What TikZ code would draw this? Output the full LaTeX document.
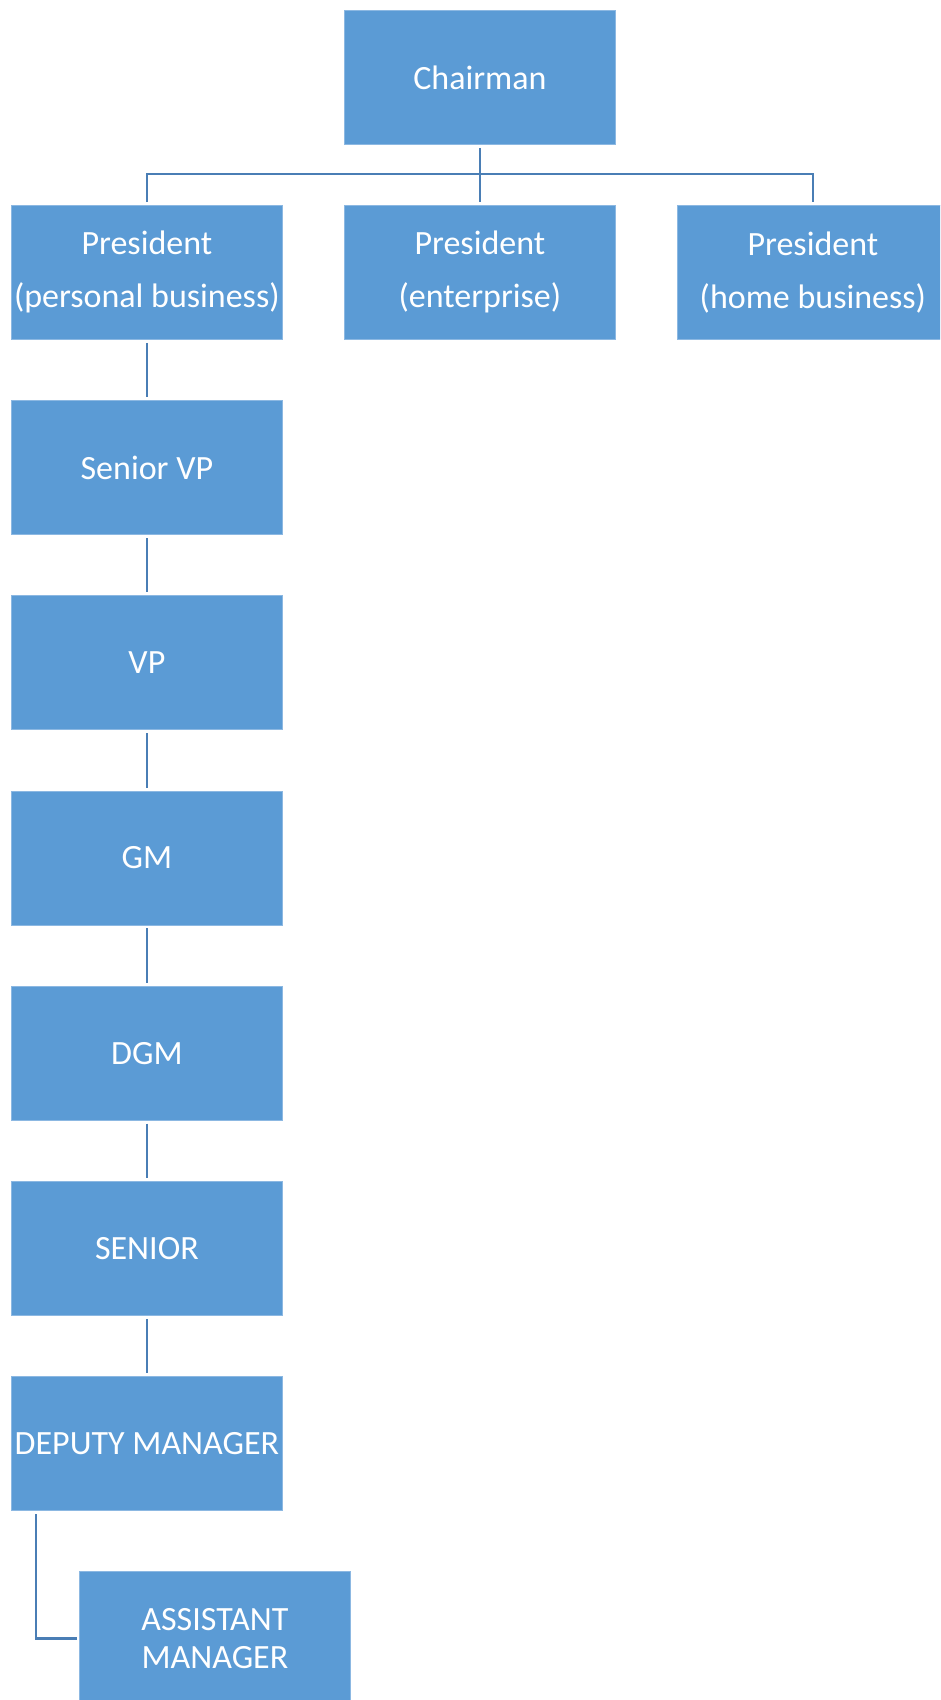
\documentclass[tikz,border=0pt]{standalone}
\usepackage{fontspec}
\setmainfont{Carlito}
\definecolor{boxblue}{HTML}{5B9BD5}
\definecolor{boxedge}{HTML}{8CB8E2}
\definecolor{linkblue}{HTML}{4A7EB5}
\begin{document}
\begin{tikzpicture}[x=1pt,y=-1pt,
  orgbox/.style={fill=boxblue,draw=boxedge,line width=0.8pt,anchor=north west,
    minimum width=271pt,minimum height=134pt,inner sep=0pt,text=white,align=center,
    font=\fontsize{34}{53}\selectfont},
  tightbox/.style={orgbox,font=\fontsize{34}{38}\selectfont},
  conn/.style={draw=linkblue,line width=2.6pt}]
\clip (0,0) rectangle (940,1700);
\useasboundingbox (0,0) rectangle (940,1700);
\node[orgbox] (chair) at (344,10) {Chairman};
\node[orgbox] (p1) at (11,205) {President\\(personal business)};
\node[orgbox] (p2) at (344,205) {President\\(enterprise)};
\node[orgbox] (p3) at (677,205) {President\\(home business)};
\node[orgbox] (svp) at (11,400.2) {Senior VP};
\node[orgbox] (vp) at (11,595.4) {VP};
\node[orgbox] (gm) at (11,790.6) {GM};
\node[orgbox] (dgm) at (11,985.8) {DGM};
\node[orgbox] (sen) at (11,1181) {SENIOR};
\node[orgbox] (dm) at (11,1376.2) {DEPUTY MANAGER};
\node[tightbox] (am) at (79,1571) {ASSISTANT\\MANAGER};
\coordinate (bus) at (479.5,174);
\draw[conn] ([yshift=-3pt]chair.south) -- ([yshift=3pt]p2.north);
\draw[conn] ([yshift=3pt]p1.north) |- (bus) -| ([yshift=3pt]p3.north);
\draw[conn] ([yshift=-3pt]p1.south) -- ([yshift=3pt]svp.north);
\draw[conn] ([yshift=-3pt]svp.south) -- ([yshift=3pt]vp.north);
\draw[conn] ([yshift=-3pt]vp.south) -- ([yshift=3pt]gm.north);
\draw[conn] ([yshift=-3pt]gm.south) -- ([yshift=3pt]dgm.north);
\draw[conn] ([yshift=-3pt]dgm.south) -- ([yshift=3pt]sen.north);
\draw[conn] ([yshift=-3pt]sen.south) -- ([yshift=3pt]dm.north);
\draw[conn] ([xshift=25pt,yshift=-3pt]dm.south west) |- ([xshift=-2pt]am.west);
\end{tikzpicture}
\end{document}
